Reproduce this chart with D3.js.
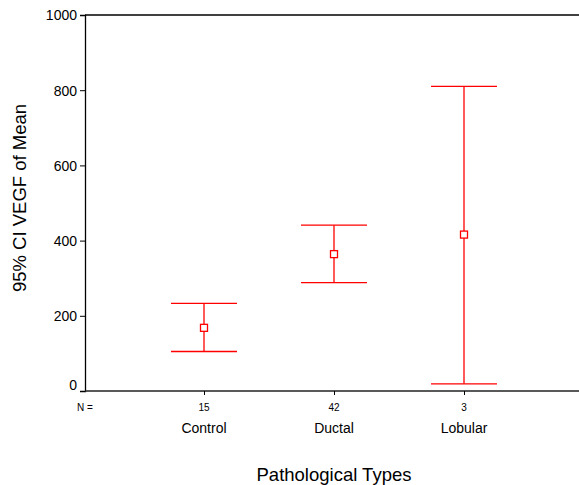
<!DOCTYPE html>
<html>
<head>
  <meta charset="utf-8"/>
  <style>
    body { margin: 0; background: #fff; }
    svg { display: block; font-family: Arial, "Liberation Sans", sans-serif; }
  </style>
</head>
<body>
  <div id="chart"></div>
  <script src="https://d3js.org/d3.v7.min.js"></script>
  <script>
    // values
    let categories = ['Control', 'Ductal', 'Lobular'];
    let counts = [15, 42, 3];
    let means = [168, 364, 416];
    let lower = [105, 288, 19];
    let upper = [233, 441, 810];
    let yTicks = [0, 200, 400, 600, 800, 1000];

    let width = 579,
        height = 485,
        plot = {'left': 85, 'top': 15, 'bottom': 391, 'right': 579};

    let svg = d3.select('#chart')
        .append('svg')
        .attr('width', width)
        .attr('height', height);

    let y = d3.scaleLinear().domain([0, 1000]).range([plot.bottom, plot.top]);
    let x = d3.scalePoint().domain(categories).range([204, 464]);

    // frame: top line and left axis
    svg.append('line')
        .attr('x1', plot.left).attr('x2', plot.right)
        .attr('y1', plot.top).attr('y2', plot.top)
        .attr('stroke', 'black').attr('stroke-width', 1.3);

    let yAxis = svg.append('g')
        .attr('transform', 'translate(' + plot.left + ',0)')
        .call(d3.axisLeft(y).tickValues(yTicks).tickFormat(d3.format('d'))
            .tickSize(5).tickPadding(3));
    yAxis.select('.domain').attr('stroke-width', 1.3);
    yAxis.selectAll('text')
        .attr('font-size', 14)
        .attr('font-family', 'Arial, "Liberation Sans", sans-serif')
        .attr('fill', 'black')
        .attr('dy', d => d === 0 ? '-0.1em' : '0.35em');

    let xAxis = svg.append('g')
        .attr('transform', 'translate(0,' + plot.bottom + ')')
        .call(d3.axisBottom(x).tickSize(4).tickFormat(''));
    xAxis.select('.domain')
        .attr('d', 'M' + plot.left + ',0H' + plot.right)
        .attr('stroke-width', 1.6)
        .attr('stroke', '#222');

    // N = row
    svg.append('text')
        .attr('x', 77).attr('y', 411)
        .attr('font-size', 10)
        .text('N =');
    svg.selectAll('.ncount')
        .data(categories)
        .enter()
        .append('text')
        .attr('class', 'ncount')
        .attr('x', d => x(d))
        .attr('y', 411)
        .attr('text-anchor', 'middle')
        .attr('font-size', 10)
        .text((d, i) => counts[i]);

    // category labels
    svg.selectAll('.cat')
        .data(categories)
        .enter()
        .append('text')
        .attr('class', 'cat')
        .attr('x', d => x(d))
        .attr('y', 433)
        .attr('text-anchor', 'middle')
        .attr('font-size', 14)
        .text(d => d);

    // axis titles
    svg.append('text')
        .attr('x', 334).attr('y', 481)
        .attr('text-anchor', 'middle')
        .attr('font-size', 18.5)
        .text('Pathological Types');

    svg.append('text')
        .attr('transform', 'translate(26,198) rotate(-90)')
        .attr('text-anchor', 'middle')
        .attr('font-size', 18.5)
        .text('95% CI VEGF of Mean');

    // error bars
    let capHalf = 33;
    let bars = svg.selectAll('.bar')
        .data(categories)
        .enter()
        .append('g')
        .attr('class', 'bar')
        .attr('stroke', 'red')
        .attr('stroke-width', 1.3)
        .attr('fill', 'none');

    bars.append('line')
        .attr('x1', d => x(d)).attr('x2', d => x(d))
        .attr('y1', (d, i) => y(lower[i]))
        .attr('y2', (d, i) => y(upper[i]));
    bars.append('line')
        .attr('x1', d => x(d) - capHalf).attr('x2', d => x(d) + capHalf)
        .attr('y1', (d, i) => y(upper[i]))
        .attr('y2', (d, i) => y(upper[i]));
    bars.append('line')
        .attr('x1', d => x(d) - capHalf).attr('x2', d => x(d) + capHalf)
        .attr('y1', (d, i) => y(lower[i]))
        .attr('y2', (d, i) => y(lower[i]));
    bars.append('rect')
        .attr('x', d => x(d) - 3.5)
        .attr('y', (d, i) => y(means[i]) - 3.5)
        .attr('width', 7)
        .attr('height', 7)
        .attr('fill', 'white');
  </script>
</body>
</html>
